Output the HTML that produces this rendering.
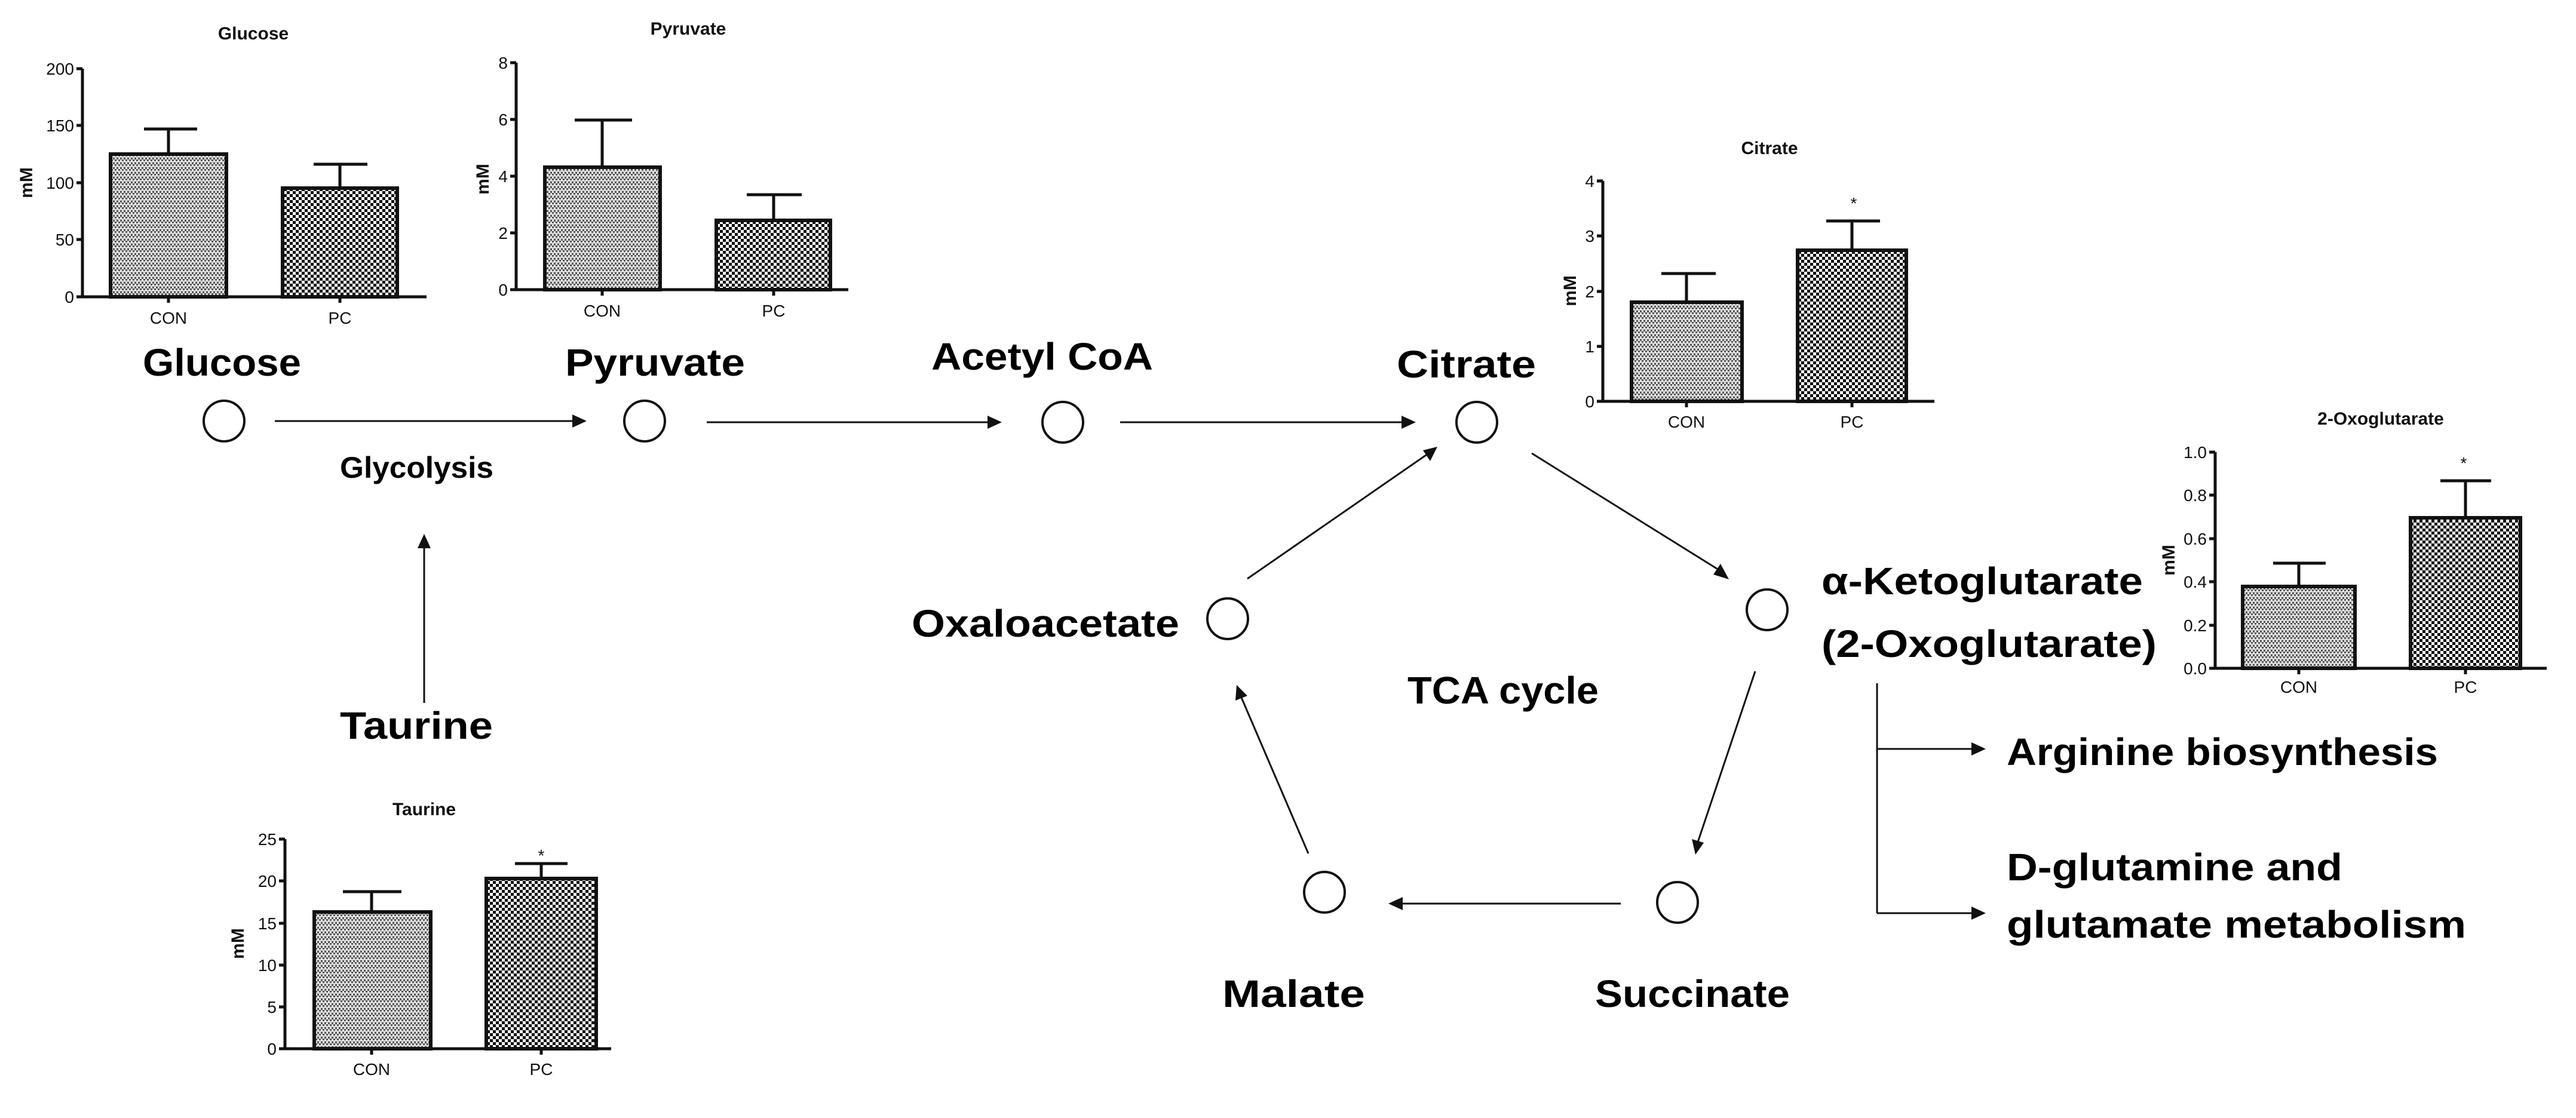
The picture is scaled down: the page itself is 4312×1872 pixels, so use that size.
<!DOCTYPE html>
<html><head><meta charset="utf-8"><style>
html,body{margin:0;padding:0;background:#fff;}
svg{display:block;}
.big{font-family:"Liberation Sans",sans-serif;font-weight:bold;font-size:64px;fill:#000;}
.t{font-family:"Liberation Sans",sans-serif;font-weight:bold;font-size:30px;fill:#111;}
.k{font-family:"Liberation Sans",sans-serif;font-size:28px;fill:#111;}
</style></head><body>
<svg width="4312" height="1872" viewBox="0 0 4312 1872" xmlns="http://www.w3.org/2000/svg">
<defs>
<pattern id="pc" width="10" height="10" patternUnits="userSpaceOnUse">
<rect width="10" height="10" fill="#fff"/><rect width="5" height="5" fill="#111"/><rect x="5" y="5" width="5" height="5" fill="#111"/></pattern>
<pattern id="pcon" width="6" height="8" patternUnits="userSpaceOnUse">
<rect width="6" height="8" fill="#555"/><rect width="3" height="3" fill="#eee"/><rect x="3" y="3" width="3" height="3" fill="#ddd"/><rect y="6" width="6" height="1.5" fill="#fff"/></pattern>
<marker id="ah" markerWidth="10" markerHeight="10" refX="9" refY="5" orient="auto" markerUnits="userSpaceOnUse" viewBox="0 0 10 10">
</marker>
</defs>

<g stroke="#111" fill="none" stroke-width="3">
<!-- pathway lines -->
<line x1="460" y1="705" x2="960" y2="705"/>
<line x1="1183" y1="707" x2="1655" y2="707"/>
<line x1="1875" y1="707" x2="2348" y2="707"/>
<line x1="710" y1="1177" x2="710" y2="915"/>
<line x1="2564" y1="759" x2="2880" y2="956"/>
<line x1="2088" y1="969" x2="2390" y2="760"/>
<line x1="2938" y1="1124" x2="2842" y2="1410"/>
<line x1="2713" y1="1513" x2="2348" y2="1513"/>
<line x1="2190" y1="1429" x2="2078" y2="1168"/>
<line x1="3142" y1="1144" x2="3142" y2="1529"/>
<line x1="3142" y1="1254" x2="3302" y2="1254"/>
<line x1="3142" y1="1529" x2="3302" y2="1529"/>
</g>
<g fill="#111">
<polygon points="982,705 958,694 958,716"/>
<polygon points="1677,707 1653,696 1653,718"/>
<polygon points="2370,707 2346,696 2346,718"/>
<polygon points="710,894 699,918 721,918"/>
<polygon points="2894,970 2868,962 2880,944"/>
<polygon points="2406,748 2382,754 2394,772"/>
<polygon points="2838,1431 2832,1405 2852,1411"/>
<polygon points="2324,1513 2348,1502 2348,1524"/>
<polygon points="2070,1147 2068,1173 2088,1165"/>
<polygon points="3324,1254 3300,1243 3300,1265"/>
<polygon points="3324,1529 3300,1518 3300,1540"/>
</g>
<g stroke="#111" fill="#fff" stroke-width="4">
<ellipse cx="375" cy="705" rx="34" ry="34"/>
<ellipse cx="1079" cy="705" rx="34" ry="34"/>
<ellipse cx="1779" cy="707" rx="34" ry="34"/>
<ellipse cx="2472" cy="707" rx="34" ry="34"/>
<ellipse cx="2958" cy="1021" rx="34" ry="34"/>
<ellipse cx="2055" cy="1036" rx="34" ry="34"/>
<ellipse cx="2217" cy="1494" rx="34" ry="34"/>
<ellipse cx="2808" cy="1511" rx="34" ry="34"/>
</g>

<!-- big labels -->
<text class="big" x="239" y="629" textLength="265" lengthAdjust="spacingAndGlyphs">Glucose</text>
<text class="big" x="946" y="629" textLength="301" lengthAdjust="spacingAndGlyphs">Pyruvate</text>
<text class="big" x="1559" y="619" textLength="371" lengthAdjust="spacingAndGlyphs">Acetyl CoA</text>
<text class="big" x="2338" y="632" textLength="233" lengthAdjust="spacingAndGlyphs">Citrate</text>
<text class="big" x="569" y="800" style="font-size:50px" textLength="257" lengthAdjust="spacingAndGlyphs">Glycolysis</text>
<text class="big" x="569" y="1237" textLength="256" lengthAdjust="spacingAndGlyphs">Taurine</text>
<text class="big" x="1526" y="1066" textLength="448" lengthAdjust="spacingAndGlyphs">Oxaloacetate</text>
<text class="big" x="2356" y="1178" textLength="320" lengthAdjust="spacingAndGlyphs">TCA cycle</text>
<text class="big" x="2046" y="1686" textLength="239" lengthAdjust="spacingAndGlyphs">Malate</text>
<text class="big" x="2670" y="1686" textLength="326" lengthAdjust="spacingAndGlyphs">Succinate</text>
<text class="big" x="3049" y="995" textLength="538" lengthAdjust="spacingAndGlyphs">α-Ketoglutarate</text>
<text class="big" x="3049" y="1100" textLength="561" lengthAdjust="spacingAndGlyphs">(2-Oxoglutarate)</text>
<text class="big" x="3359" y="1281" textLength="722" lengthAdjust="spacingAndGlyphs">Arginine biosynthesis</text>
<text class="big" x="3359" y="1474" textLength="562" lengthAdjust="spacingAndGlyphs">D-glutamine and</text>
<text class="big" x="3359" y="1570" textLength="769" lengthAdjust="spacingAndGlyphs">glutamate metabolism</text>

<!-- Glucose chart -->
<g>
<text class="t" x="424" y="66" text-anchor="middle">Glucose</text>
<rect x="185" y="258" width="194" height="239" fill="url(#pcon)" stroke="#111" stroke-width="6"/>
<rect x="473" y="315" width="192" height="182" fill="url(#pc)" stroke="#111" stroke-width="6"/>
<g stroke="#111" stroke-width="5" fill="none">
<path d="M138 115V497H714M128 115H138M128 210H138M128 306H138M128 401H138M128 497H138M282 497V507M569 497V507"/>
<path d="M282 258V216M241 216H330M569 315V275M525 275H615"/>
</g>
<g class="k" text-anchor="end"><text x="124" y="125">200</text><text x="124" y="220">150</text><text x="124" y="316">100</text><text x="124" y="411">50</text><text x="124" y="507">0</text></g>
<text class="k" x="282" y="542" text-anchor="middle">CON</text><text class="k" x="569" y="542" text-anchor="middle">PC</text>
<text class="t" transform="translate(54,306) rotate(-90)" text-anchor="middle">mM</text>
</g>

<!-- Pyruvate chart -->
<g>
<text class="t" x="1152" y="58" text-anchor="middle">Pyruvate</text>
<rect x="912" y="280" width="193" height="205" fill="url(#pcon)" stroke="#111" stroke-width="6"/>
<rect x="1199" y="369" width="191" height="116" fill="url(#pc)" stroke="#111" stroke-width="6"/>
<g stroke="#111" stroke-width="5" fill="none">
<path d="M864 105V485H1420M854 105H864M854 200H864M854 295H864M854 390H864M854 485H864M1008 485V495M1295 485V495"/>
<path d="M1008 280V201M962 201H1058M1295 369V326M1250 326H1342"/>
</g>
<g class="k" text-anchor="end"><text x="850" y="115">8</text><text x="850" y="210">6</text><text x="850" y="305">4</text><text x="850" y="400">2</text><text x="850" y="495">0</text></g>
<text class="k" x="1008" y="530" text-anchor="middle">CON</text><text class="k" x="1295" y="530" text-anchor="middle">PC</text>
<text class="t" transform="translate(818,300) rotate(-90)" text-anchor="middle">mM</text>
</g>

<!-- Citrate chart -->
<g>
<text class="t" x="2962" y="258" text-anchor="middle">Citrate</text>
<rect x="2731" y="506" width="185" height="166" fill="url(#pcon)" stroke="#111" stroke-width="6"/>
<rect x="3009" y="419" width="182" height="253" fill="url(#pc)" stroke="#111" stroke-width="6"/>
<g stroke="#111" stroke-width="5" fill="none">
<path d="M2683 303V672H3238M2673 303H2683M2673 395H2683M2673 488H2683M2673 580H2683M2673 672H2683M2823 672V682M3100 672V682"/>
<path d="M2823 506V458M2781 458H2872M3100 419V370M3057 370H3147"/>
</g>
<text class="k" x="3103" y="350" text-anchor="middle">*</text>
<g class="k" text-anchor="end"><text x="2669" y="313">4</text><text x="2669" y="405">3</text><text x="2669" y="498">2</text><text x="2669" y="590">1</text><text x="2669" y="682">0</text></g>
<text class="k" x="2823" y="716" text-anchor="middle">CON</text><text class="k" x="3100" y="716" text-anchor="middle">PC</text>
<text class="t" transform="translate(2638,487) rotate(-90)" text-anchor="middle">mM</text>
</g>

<!-- 2-Oxoglutarate chart -->
<g>
<text class="t" x="3985" y="711" text-anchor="middle">2-Oxoglutarate</text>
<rect x="3754" y="982" width="188" height="137" fill="url(#pcon)" stroke="#111" stroke-width="6"/>
<rect x="4035" y="867" width="184" height="252" fill="url(#pc)" stroke="#111" stroke-width="6"/>
<g stroke="#111" stroke-width="5" fill="none">
<path d="M3708 757V1119H4263M3698 757H3708M3698 829H3708M3698 902H3708M3698 974H3708M3698 1047H3708M3698 1119H3708M3848 1119V1129M4127 1119V1129"/>
<path d="M3848 982V943M3805 943H3893M4127 867V805M4085 805H4170"/>
</g>
<text class="k" x="4124" y="785" text-anchor="middle">*</text>
<g class="k" text-anchor="end"><text x="3694" y="767">1.0</text><text x="3694" y="839">0.8</text><text x="3694" y="912">0.6</text><text x="3694" y="984">0.4</text><text x="3694" y="1057">0.2</text><text x="3694" y="1129">0.0</text></g>
<text class="k" x="3848" y="1160" text-anchor="middle">CON</text><text class="k" x="4127" y="1160" text-anchor="middle">PC</text>
<text class="t" transform="translate(3640,938) rotate(-90)" text-anchor="middle">mM</text>
</g>

<!-- Taurine chart -->
<g>
<text class="t" x="710" y="1365" text-anchor="middle">Taurine</text>
<rect x="526" y="1527" width="195" height="229" fill="url(#pcon)" stroke="#111" stroke-width="6"/>
<rect x="814" y="1471" width="184" height="285" fill="url(#pc)" stroke="#111" stroke-width="6"/>
<g stroke="#111" stroke-width="5" fill="none">
<path d="M477 1405V1756H1023M467 1405H477M467 1475H477M467 1546H477M467 1616H477M467 1686H477M467 1756H477M622 1756V1766M906 1756V1766"/>
<path d="M622 1527V1493M574 1493H672M906 1471V1446M862 1446H950"/>
</g>
<text class="k" x="906" y="1442" text-anchor="middle">*</text>
<g class="k" text-anchor="end"><text x="463" y="1415">25</text><text x="463" y="1485">20</text><text x="463" y="1556">15</text><text x="463" y="1626">10</text><text x="463" y="1696">5</text><text x="463" y="1766">0</text></g>
<text class="k" x="622" y="1800" text-anchor="middle">CON</text><text class="k" x="906" y="1800" text-anchor="middle">PC</text>
<text class="t" transform="translate(408,1580) rotate(-90)" text-anchor="middle">mM</text>
</g>
</svg>
</body></html>
